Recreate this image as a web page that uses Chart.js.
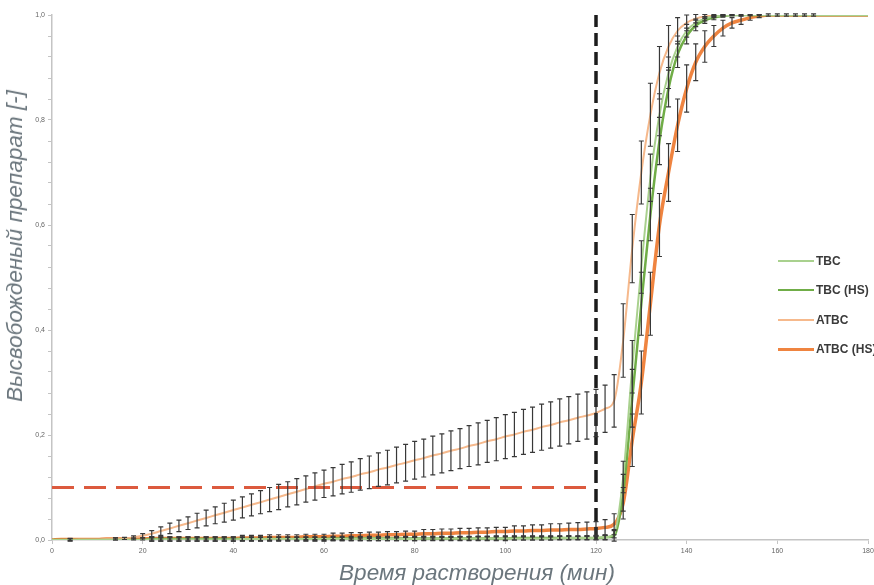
<!DOCTYPE html>
<html lang="ru">
  <head>
    <meta charset="UTF-8" />
    <title>Высвобождение препарата</title>
    <style>
      * {
        box-sizing: border-box;
        margin: 0;
        padding: 0;
      }

      body {
        background-color: #ffffff;
        font-family: "Liberation Sans", Arial, sans-serif;
      }

      .chart-wrap {
        position: relative;
        width: 874px;
        height: 585px;
        overflow: hidden;
      }

      .axis-title {
        position: absolute;
        font-style: italic;
        font-size: 22.5px;
        color: #6b767d;
        white-space: nowrap;
      }

      .y-title {
        left: 15px;
        top: 246px;
        transform: translate(-50%, -50%) rotate(-90deg);
      }

      .x-title {
        left: 477px;
        top: 573px;
        transform: translate(-50%, -50%);
      }

      .legend {
        position: absolute;
        left: 778px;
        top: 246px;
      }

      .legend-item {
        display: flex;
        align-items: center;
        height: 29.5px;
        font-size: 12px;
        font-weight: bold;
        color: #3a3a3a;
        white-space: nowrap;
      }

      .legend-line {
        width: 36px;
        margin-right: 2px;
      }
    </style>
    <script src="https://cdn.jsdelivr.net/npm/chart.js"></script>
  </head>
  <body>
    <div class="chart-wrap">
      <canvas id="releaseChart"></canvas>
      <div class="axis-title y-title">Высвобожденый препарат [-]</div>
      <div class="axis-title x-title">Время растворения (мин)</div>
      <div class="legend" id="legend"></div>
    </div>
    <script>
      // time points, min
      const times = [
        0, 2, 4, 6, 8, 10, 12, 14, 16, 18, 20, 22, 24, 26, 28, 30, 32, 34, 36,
        38, 40, 42, 44, 46, 48, 50, 52, 54, 56, 58, 60, 62, 64, 66, 68, 70, 72,
        74, 76, 78, 80, 82, 84, 86, 88, 90, 92, 94, 96, 98, 100, 102, 104, 106,
        108, 110, 112, 114, 116, 118, 120, 122, 124, 126, 128, 130, 132, 134,
        136, 138, 140, 142, 144, 146, 148, 150, 152, 154, 156, 158, 160, 162,
        164, 166, 168, 170, 172, 174, 176, 178, 180,
      ];

      const seriesNames = ["TBC", "TBC (HS)", "ATBC", "ATBC (HS)"];
      const seriesColors = ["#a9d18e", "#70ad47", "#f6b98c", "#ef8440"];
      const seriesWidths = [2, 2.5, 2, 3.5];

      const tbc = [
        0, 0, 0, 0, 0, 0, 0, 0, 0, 0, 0,
        0.001, 0.001, 0.001, 0.001, 0.001, 0.001, 0.001, 0.001, 0.001, 0.001,
        0.002, 0.002, 0.002, 0.002, 0.002, 0.002, 0.002, 0.002, 0.002, 0.002,
        0.002, 0.002, 0.002, 0.002, 0.002, 0.002, 0.002, 0.002, 0.002, 0.002,
        0.003, 0.003, 0.003, 0.003, 0.003, 0.003, 0.003, 0.003, 0.003, 0.003,
        0.003, 0.003, 0.003, 0.003, 0.003,
        0.004, 0.004, 0.004, 0.004, 0.004,
        0.005, 0.012, 0.12, 0.33, 0.52, 0.69, 0.81, 0.89, 0.94, 0.97, 0.985,
        0.993, 0.997, 0.999,
        1, 1, 1, 1, 1, 1, 1, 1, 1, 1, 1, 1, 1, 1, 1, 1,
      ];
      const tbcErr = [
        0, 0, 0, 0, 0, 0, 0, 0, 0, 0, 0,
        0.003, 0.003, 0.003, 0.003, 0.003, 0.003, 0.003, 0.003, 0.003, 0.003,
        0.003, 0.003, 0.003, 0.003, 0.003, 0.003, 0.003, 0.003, 0.003, 0.003,
        0.003, 0.003, 0.003, 0.003, 0.003, 0.003, 0.003, 0.003, 0.003, 0.003,
        0.003, 0.003, 0.003, 0.003, 0.003, 0.003, 0.003, 0.003, 0.003, 0.003,
        0.003, 0.003, 0.003, 0.003, 0.003, 0.003, 0.003, 0.003, 0.003, 0.003,
        0.004, 0.008, 0.03, 0.05, 0.05, 0.045, 0.04, 0.03, 0.02, 0.012, 0.007,
        0.004, 0.002, 0.001,
        0, 0, 0, 0, 0, 0, 0, 0, 0, 0, 0, 0, 0, 0, 0, 0,
      ];

      const tbcHs = [
        0, 0, 0, 0, 0, 0, 0, 0, 0, 0, 0,
        0.002, 0.002, 0.002, 0.002, 0.002, 0.002, 0.002, 0.002, 0.002, 0.002,
        0.002, 0.002, 0.002, 0.002, 0.002, 0.002, 0.002, 0.002, 0.002, 0.002,
        0.003, 0.003, 0.003, 0.003, 0.003, 0.003, 0.003, 0.003, 0.003, 0.003,
        0.003, 0.003, 0.003, 0.003, 0.003, 0.003, 0.003, 0.003, 0.003, 0.003,
        0.004, 0.004, 0.004, 0.004, 0.004, 0.004, 0.004, 0.004, 0.004, 0.004,
        0.005, 0.008, 0.09, 0.27, 0.45, 0.62, 0.76, 0.86, 0.925, 0.96, 0.98,
        0.99, 0.995, 0.998,
        1, 1, 1, 1, 1, 1, 1, 1, 1, 1, 1, 1, 1, 1, 1, 1,
      ];
      const tbcHsErr = [
        0, 0, 0, 0, 0, 0, 0, 0, 0, 0, 0,
        0.004, 0.004, 0.004, 0.004, 0.004, 0.004, 0.004, 0.004, 0.004, 0.004,
        0.004, 0.004, 0.004, 0.004, 0.004, 0.004, 0.004, 0.004, 0.004, 0.004,
        0.004, 0.004, 0.004, 0.004, 0.004, 0.004, 0.004, 0.004, 0.004, 0.004,
        0.004, 0.004, 0.004, 0.004, 0.004, 0.004, 0.004, 0.004, 0.004, 0.004,
        0.004, 0.004, 0.004, 0.004, 0.004, 0.004, 0.004, 0.004, 0.004, 0.004,
        0.005, 0.01, 0.035, 0.055, 0.06, 0.05, 0.045, 0.035, 0.025, 0.015, 0.01,
        0.006, 0.004, 0.002,
        0.001, 0.001, 0.001, 0.001, 0, 0, 0, 0, 0, 0, 0, 0, 0, 0, 0, 0,
      ];

      const atbc = [
        0, 0, 0, 0.001, 0.001, 0.001, 0.002, 0.002, 0.003, 0.005, 0.008,
        0.012, 0.017, 0.022, 0.027, 0.032, 0.037, 0.042, 0.047, 0.052, 0.057,
        0.062, 0.067, 0.072, 0.077, 0.082, 0.087, 0.092, 0.097, 0.102, 0.107,
        0.111, 0.116, 0.12, 0.125, 0.129, 0.134, 0.138, 0.143, 0.147, 0.152,
        0.156, 0.161, 0.165, 0.17, 0.174, 0.179, 0.183, 0.188, 0.192, 0.197,
        0.201, 0.206, 0.21, 0.215, 0.219, 0.224, 0.228, 0.233, 0.237, 0.242,
        0.25, 0.265, 0.38, 0.555, 0.7, 0.81, 0.89, 0.94, 0.97, 0.985, 0.993,
        0.997, 0.999,
        1, 1, 1, 1, 1, 1, 1, 1, 1, 1, 1, 1, 1, 1, 1, 1, 1,
      ];
      const atbcErr = [
        0, 0, 0.002, 0, 0, 0, 0, 0.002, 0.002, 0.003, 0.004,
        0.006, 0.008, 0.01, 0.011, 0.012, 0.014, 0.015, 0.016, 0.018, 0.019,
        0.02, 0.021, 0.022, 0.023, 0.024, 0.024, 0.025, 0.025, 0.026, 0.026,
        0.027, 0.028, 0.029, 0.03, 0.031, 0.032, 0.033, 0.034, 0.035, 0.036,
        0.036, 0.037, 0.037, 0.038, 0.038, 0.039, 0.04, 0.04, 0.041, 0.042,
        0.042, 0.043, 0.043, 0.044, 0.044, 0.045, 0.045, 0.045, 0.045, 0.045,
        0.045, 0.05, 0.07, 0.065, 0.06, 0.06, 0.05, 0.04, 0.025, 0.015, 0.008,
        0.004, 0.002, 0.001, 0.001,
        0, 0, 0, 0, 0, 0, 0, 0, 0, 0, 0, 0, 0, 0, 0,
      ];

      const atbcHs = [
        0, 0.001, 0.001, 0.001, 0.001, 0.001, 0.002, 0.002, 0.002, 0.002, 0.002,
        0.003, 0.003, 0.003, 0.003, 0.003, 0.003, 0.003, 0.003, 0.003, 0.003,
        0.004, 0.004, 0.004, 0.005, 0.005, 0.005, 0.005, 0.006, 0.006, 0.006,
        0.007, 0.007, 0.008, 0.008, 0.009, 0.009, 0.01, 0.01, 0.011, 0.011,
        0.012, 0.012, 0.013, 0.013, 0.014, 0.014, 0.015, 0.015, 0.016, 0.016,
        0.017, 0.017, 0.018, 0.018, 0.019, 0.019, 0.02, 0.02, 0.021, 0.022,
        0.024, 0.03, 0.07, 0.19, 0.3, 0.45, 0.6, 0.7, 0.79, 0.86, 0.91, 0.94,
        0.96, 0.975, 0.985, 0.99, 0.995, 0.998,
        1, 1, 1, 1, 1, 1, 1, 1, 1, 1, 1, 1,
      ];
      const atbcHsErr = [
        0, 0, 0.002, 0, 0, 0, 0, 0.002, 0, 0.002, 0.002,
        0.003, 0.003, 0.003, 0.003, 0.003, 0.003, 0.003, 0.003, 0.003, 0.003,
        0.005, 0.005, 0.005, 0.005, 0.005, 0.005, 0.005, 0.005, 0.005, 0.005,
        0.006, 0.006, 0.006, 0.006, 0.006, 0.006, 0.006, 0.006, 0.006, 0.006,
        0.008, 0.008, 0.008, 0.008, 0.008, 0.008, 0.008, 0.008, 0.008, 0.008,
        0.01, 0.01, 0.011, 0.011, 0.012, 0.012, 0.012, 0.013, 0.013, 0.013,
        0.015, 0.02, 0.03, 0.05, 0.06, 0.06, 0.06, 0.055, 0.05, 0.045, 0.035,
        0.03, 0.02, 0.015, 0.01, 0.008, 0.005, 0.003,
        0.002, 0.002, 0.002, 0.002, 0.002, 0.002, 0, 0, 0, 0, 0, 0,
      ];

      // reference lines: limit level 0.1 up to 120 min
      const limitTimes = [0, 120];
      const limitLevels = [0.1, 0.1];
      const cutTimes = [120, 120];
      const cutLevels = [0, 1];

      const seriesValues = [tbc, tbcHs, atbc, atbcHs];
      const seriesErrors = [tbcErr, tbcHsErr, atbcErr, atbcHsErr];

      function toPoints(xs, ys) {
        return xs.map((x, i) => ({ x: x, y: ys[i] }));
      }

      // vertical error bars with caps, drawn through the chart scales
      const errorBars = {
        id: "errorBars",
        afterDatasetsDraw(chart) {
          const ctx = chart.ctx;
          const xScale = chart.scales.x;
          const yScale = chart.scales.y;
          ctx.save();
          ctx.strokeStyle = "#383838";
          ctx.lineWidth = 1.2;
          chart.data.datasets.forEach((ds) => {
            if (!ds.errors) return;
            ds.data.forEach((p, i) => {
              const e = ds.errors[i];
              if (!e) return;
              const px = xScale.getPixelForValue(p.x);
              const top = yScale.getPixelForValue(p.y + e);
              const bot = yScale.getPixelForValue(p.y - e);
              ctx.beginPath();
              ctx.moveTo(px, top);
              ctx.lineTo(px, bot);
              ctx.moveTo(px - 2.5, top);
              ctx.lineTo(px + 2.5, top);
              ctx.moveTo(px - 2.5, bot);
              ctx.lineTo(px + 2.5, bot);
              ctx.stroke();
            });
          });
          ctx.restore();
        },
      };

      const datasets = [
        {
          label: "limit",
          data: toPoints(limitTimes, limitLevels),
          borderColor: "#dc5a3e",
          borderWidth: 3,
          borderDash: [22, 10],
          pointRadius: 0,
        },
        {
          label: "cut",
          data: toPoints(cutTimes, cutLevels),
          borderColor: "#1c1c1c",
          borderWidth: 3.5,
          borderDash: [13, 6],
          pointRadius: 0,
        },
      ];

      seriesNames.forEach((name, k) => {
        datasets.push({
          label: name,
          data: toPoints(times, seriesValues[k]),
          errors: seriesErrors[k],
          borderColor: seriesColors[k],
          borderWidth: seriesWidths[k],
          pointRadius: 0,
          cubicInterpolationMode: "monotone",
        });
      });

      new Chart(document.getElementById("releaseChart"), {
        type: "line",
        data: { datasets: datasets },
        plugins: [errorBars],
        options: {
          responsive: true,
          maintainAspectRatio: false,
          animation: false,
          layout: { padding: { top: 15, right: 6, left: 0, bottom: 0 } },
          plugins: {
            legend: { display: false },
            tooltip: { enabled: false },
          },
          scales: {
            x: {
              type: "linear",
              min: 0,
              max: 180,
              afterFit(scale) {
                scale.height = 45;
                scale.paddingLeft = 0;
                scale.paddingRight = 0;
              },
              border: { color: "#c4c4c4", width: 1.5 },
              grid: {
                drawOnChartArea: false,
                tickLength: 4,
                color: "#c4c4c4",
              },
              ticks: {
                stepSize: 20,
                maxRotation: 0,
                padding: 3,
                color: "#666666",
                font: { family: "Liberation Sans", size: 7 },
              },
            },
            y: {
              min: 0,
              max: 1,
              afterFit(scale) {
                scale.width = 52;
              },
              border: { color: "#c4c4c4", width: 1.5 },
              grid: {
                drawOnChartArea: false,
                tickLength: 4,
                color: "#c4c4c4",
              },
              ticks: {
                stepSize: 0.04,
                autoSkip: false,
                padding: 3,
                color: "#666666",
                font: { family: "Liberation Sans", size: 7 },
                callback: (v) => {
                  const major = Math.abs(v * 5 - Math.round(v * 5)) < 1e-6;
                  return major ? v.toFixed(1).replace(".", ",") : "";
                },
              },
            },
          },
        },
      });

      // legend
      const legend = document.getElementById("legend");
      seriesNames.forEach((name, k) => {
        const item = document.createElement("div");
        item.className = "legend-item";
        const line = document.createElement("span");
        line.className = "legend-line";
        line.style.borderTop = seriesWidths[k] + "px solid " + seriesColors[k];
        const text = document.createElement("span");
        text.textContent = name;
        item.appendChild(line);
        item.appendChild(text);
        legend.appendChild(item);
      });
    </script>
  </body>
</html>
